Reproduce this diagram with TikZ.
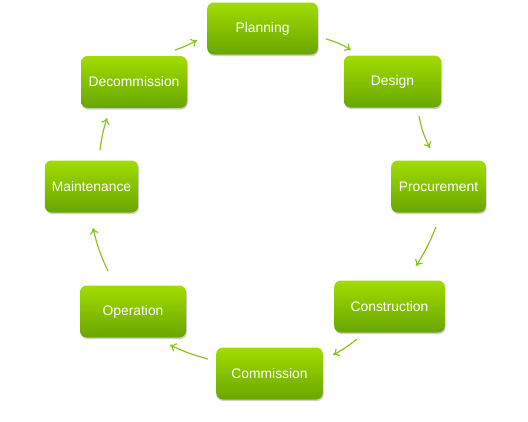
\documentclass[tikz,border=0pt]{standalone}
\usepackage{fontspec}
\setmainfont{Liberation Sans}
\usetikzlibrary{shadows,arrows.meta}
\definecolor{gtop}{HTML}{A2DC00}
\definecolor{gbot}{HTML}{68A600}
\definecolor{arrc}{HTML}{8CC41E}
\tikzset{
  stage/.style={rounded corners=5pt, top color=gtop, bottom color=gbot, draw=none,
    text=white, font=\fontsize{10.4pt}{12pt}\selectfont, minimum height=39pt,
    inner sep=0pt, drop shadow={shadow xshift=0.6pt, shadow yshift=-1.2pt, opacity=0.3, fill=black!60}},
  flow/.style={draw=arrc, line width=0.9pt, -{To[length=4.5pt,width=6.5pt]}}
}
\begin{document}
\begin{tikzpicture}[x=0.75pt,y=-0.75pt]
\useasboundingbox (0,0) rectangle (528,421);
\node[stage, minimum width=83pt] (plan) at (262.5,28.5) {Planning};
\node[stage, minimum width=73pt] (design) at (392.5,81.5) {Design};
\node[stage, minimum width=71pt] (proc) at (438.5,186.5) {Procurement};
\node[stage, minimum width=83pt] (cons) at (389.5,306.5) {Construction};
\node[stage, minimum width=80pt] (comm) at (269.5,373.5) {Commission};
\node[stage, minimum width=79.5pt] (oper) at (133,311.5) {Operation};
\node[stage, minimum width=70pt] (maint) at (91.5,186.5) {Maintenance};
\node[stage, minimum width=79.5pt] (decom) at (134,82) {Decommission};

\coordinate (a1) at (326,39); \coordinate (b1) at (351,50);
\coordinate (a2) at (419,116); \coordinate (b2) at (430,148);
\coordinate (a3) at (436,227); \coordinate (b3) at (416,266);
\coordinate (a4) at (357,339); \coordinate (b4) at (333,355);
\coordinate (a5) at (208,359); \coordinate (b5) at (170,345);
\coordinate (a6) at (108,271); \coordinate (b6) at (93,228);
\coordinate (a7) at (100,150); \coordinate (b7) at (107,118);
\coordinate (a8) at (175,50); \coordinate (b8) at (197,40);

\draw[flow] (a1) to[bend left=8] (b1);
\draw[flow] (a2) to[bend right=8] (b2);
\draw[flow] (a3) to[bend left=5] (b3);
\draw[flow] (a4) to[bend left=5] (b4);
\draw[flow] (a5) to[bend left=5] (b5);
\draw[flow] (a6) to[bend left=6] (b6);
\draw[flow] (a7) to[bend left=5] (b7);
\draw[flow] (a8) to[bend right=6] (b8);
\end{tikzpicture}
\end{document}
